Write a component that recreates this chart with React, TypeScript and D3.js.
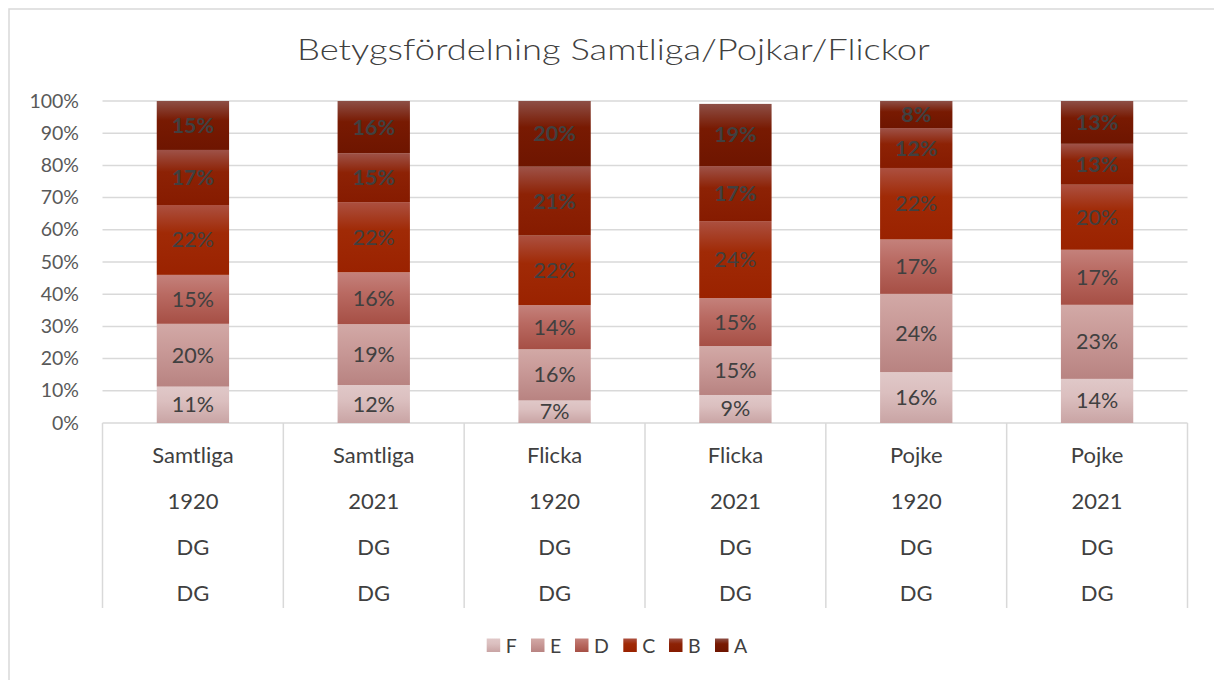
import React from "react";
import * as d3 from "d3";

const level1 = ["Samtliga", "Samtliga", "Flicka", "Flicka", "Pojke", "Pojke"];
const level2 = ["1920", "2021", "1920", "2021", "1920", "2021"];
const level3 = ["DG", "DG", "DG", "DG", "DG", "DG"];
const level4 = ["DG", "DG", "DG", "DG", "DG", "DG"];

const seriesNames = ["F", "E", "D", "C", "B", "A"];
const valF = [11.3, 11.8, 7.0, 8.7, 15.8, 13.7];
const valE = [19.5, 18.9, 15.9, 15.2, 24.3, 23.0];
const valD = [15.2, 16.1, 13.7, 14.9, 16.9, 17.1];
const valC = [21.7, 21.8, 21.6, 23.9, 22.2, 20.2];
const valB = [17.1, 15.2, 21.4, 17.1, 12.4, 12.7];
const valA = [15.2, 16.2, 20.4, 19.3, 8.4, 13.3];
const seriesValues = [valF, valE, valD, valC, valB, valA];
const boldSeries = ["B", "A"];

const yTicks = [0, 0.1, 0.2, 0.3, 0.4, 0.5, 0.6, 0.7, 0.8, 0.9, 1.0];
const title = "Betygsfördelning Samtliga/Pojkar/Flickor";

// gradient stops [top, mid, bottom]
const gradColors: Record<string, string[]> = {
  F: ["#e0c8c8", "#dbbfbf", "#c9a4a4"],
  E: ["#d2a9a6", "#c99a98", "#b88381"],
  D: ["#c4817b", "#b96a62", "#a64f45"],
  C: ["#ac5040", "#a02a06", "#9a2200"],
  B: ["#9e5248", "#8d2205", "#861b00"],
  A: ["#8d4f46", "#781a02", "#6e1500"],
};

const FONT = "Lato, 'Open Sans', sans-serif";

export default function App() {
  const plotLeft = 102.5;
  const plotRight = 1187.5;
  const yTop = 101;
  const yBottom = 423;

  const x = d3
    .scaleBand<number>()
    .domain(d3.range(level1.length))
    .range([plotLeft, plotRight])
    .paddingInner(0.6)
    .paddingOuter(0.3);
  const band = (plotRight - plotLeft) / level1.length;
  const y = d3.scaleLinear().domain([0, 1]).range([yBottom, yTop]);

  const stacks = level1.map((_, i) => {
    let acc = 0;
    return seriesNames.map((s, k) => {
      const v = seriesValues[k][i] / 100;
      const seg = { s, v, y0: acc, y1: acc + v };
      acc += v;
      return seg;
    });
  });

  const rowBaselines = [463, 509, 555, 601];
  const rows = [level1, level2, level3, level4];

  const legendX = [486.7, 531, 575, 623.3, 669, 715];

  return (
    <svg
      width={1214}
      height={680}
      style={{ position: "absolute", left: 0, top: 0, background: "#fff" }}
      fontFamily={FONT}
    >
      <defs>
        {seriesNames.map((s) => (
          <linearGradient key={s} id={"g" + s} x1="0" y1="0" x2="0" y2="1">
            <stop offset="0" stopColor={gradColors[s][0]} />
            <stop offset="0.4" stopColor={gradColors[s][1]} />
            <stop offset="1" stopColor={gradColors[s][2]} />
          </linearGradient>
        ))}
      </defs>
      <rect x={9} y={9} width={1240} height={700} fill="#fff" stroke="#d9d9d9" strokeWidth={1.5} />

      <text
        x={613.5}
        y={60}
        textAnchor="middle"
        fontSize={30}
        fontWeight={300}
        fill="#404040"
        textLength={633}
        lengthAdjust="spacingAndGlyphs"
      >
        {title}
      </text>

      {/* gridlines */}
      {yTicks.map((t) => (
        <line key={t} x1={plotLeft} x2={plotRight} y1={y(t)} y2={y(t)} stroke="#d9d9d9" strokeWidth={1.5} />
      ))}
      {yTicks.map((t) => (
        <text key={"l" + t} x={79} y={y(t) + 6.5} textAnchor="end" fontSize={19.5} fill="#595959">
          {Math.round(t * 100) + "%"}
        </text>
      ))}

      {/* category separators */}
      {d3.range(level1.length + 1).map((i) => (
        <line
          key={"s" + i}
          x1={plotLeft + i * band}
          x2={plotLeft + i * band}
          y1={yBottom}
          y2={608}
          stroke="#d9d9d9"
          strokeWidth={1.5}
        />
      ))}

      {/* bars */}
      {stacks.map((segs, i) =>
        segs.map((g) => (
          <rect
            key={i + g.s}
            x={x(i)}
            width={x.bandwidth()}
            y={y(g.y1)}
            height={y(g.y0) - y(g.y1)}
            fill={`url(#g${g.s})`}
          />
        ))
      )}
      {stacks.map((segs, i) =>
        segs.map((g) => (
          <text
            key={"t" + i + g.s}
            x={(x(i) as number) + x.bandwidth() / 2}
            y={(y(g.y0) + y(g.y1)) / 2 + 7.5}
            textAnchor="middle"
            fontSize={21.5}
            fontWeight={boldSeries.includes(g.s) ? 700 : 400}
            fill="#404040"
          >
            {Math.round(g.v * 100) + "%"}
          </text>
        ))
      )}

      {/* category labels */}
      {rows.map((row, r) =>
        row.map((lab, i) => (
          <text
            key={"c" + r + i}
            x={plotLeft + (i + 0.5) * band}
            y={rowBaselines[r]}
            textAnchor="middle"
            fontSize={22}
            fill="#404040"
          >
            {lab}
          </text>
        ))
      )}

      {/* legend */}
      {seriesNames.map((s, k) => (
        <g key={"lg" + s}>
          <rect x={legendX[k]} y={638.5} width={13.5} height={13.5} fill={`url(#g${s})`} />
          <text x={legendX[k] + 19} y={652.5} fontSize={19.5} fill="#404040">
            {s}
          </text>
        </g>
      ))}
    </svg>
  );
}
